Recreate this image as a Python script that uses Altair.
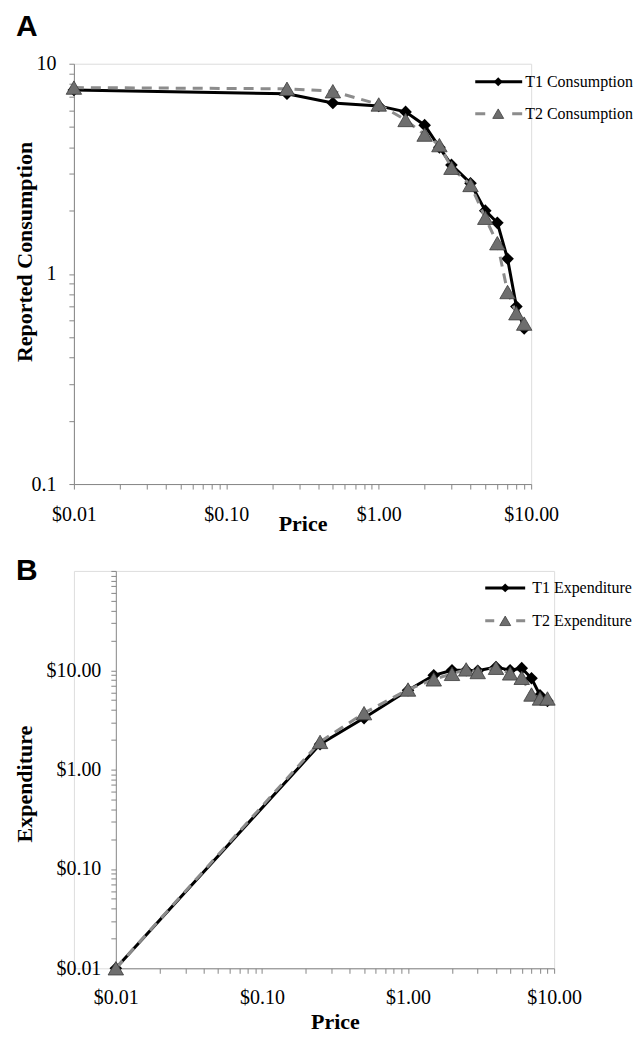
import json
import altair as alt
import pandas as pd

# ---- data ----
prices = [0.01, 0.25, 0.5, 1, 1.5, 2, 2.5, 3, 4, 5, 6, 7, 8, 9]
t1_consumption = [7.5, 7.2, 6.5, 6.3, 5.9, 5.1, 4.0, 3.3, 2.7, 2.0, 1.75, 1.18, 0.70, 0.55]
t2_consumption = [7.7, 7.6, 7.4, 6.4, 5.4, 4.6, 4.1, 3.2, 2.65, 1.85, 1.4, 0.82, 0.65, 0.58]
t1_expenditure = [0.01, 1.8, 3.3, 6.3, 8.9, 10.0, 10.0, 9.9, 10.8, 10.0, 10.5, 8.3, 5.6, 4.9]
t2_expenditure = [0.01, 1.9, 3.7, 6.4, 8.1, 9.2, 10.2, 9.6, 10.6, 9.3, 8.4, 5.7, 5.2, 5.2]

x_major = [0.01, 0.1, 1, 10]
x_labels = ["$0.01", "$0.10", "$1.00", "$10.00"]
ya_major = [0.1, 1, 10]
ya_labels = ["0.1", "1", "10"]
yb_major = [0.01, 0.1, 1, 10]
yb_labels = ["$0.01", "$0.10", "$1.00", "$10.00"]

legend_a = ["T1 Consumption", "T2 Consumption"]
legend_b = ["T1 Expenditure", "T2 Expenditure"]

SERIF = "Liberation Serif"
SANS = "Liberation Sans"
AX = "#868686"
T2_LINE = "#8c8c8c"
T2_FILL = "#6e6e6e"
T2_EDGE = "#3c3c3c"


def log_tick_values(lo, hi):
    vals = []
    for e in range(lo, hi):
        for m in range(1, 10):
            vals.append(round(m * 10.0 ** e, 6))
    vals.append(round(10.0 ** hi, 6))
    return vals


def label_expr(major, labels):
    return f"{json.dumps(labels)}[indexof({json.dumps(major)}, datum.value)] || ''"


def axis(values, expr, title, **kw):
    return alt.Axis(
        values=values, labelExpr=expr, title=title, grid=False,
        domainColor=AX, tickColor=AX, tickSize=5, domainWidth=1, tickWidth=1,
        labelFont=SERIF, labelFontSize=20, labelColor="black",
        labelFlush=False, labelOverlap=False,
        titleFont=SERIF, titleFontSize=22, titleFontWeight="bold", titleColor="black",
        **kw,
    )


def panel(t1, t2, y_domain, x_ax, y_ax, x_range, legend_labels, legend_pos, dashes,
          letter, w, h):
    d1 = pd.DataFrame({"price": prices, "value": t1})
    d2 = pd.DataFrame({"price": prices, "value": t2})
    xs = alt.Scale(type="log", domain=[0.01, 10], nice=False, range=x_range)
    ys = alt.Scale(type="log", domain=y_domain, nice=False)
    X = alt.X("price:Q", scale=xs, axis=x_ax)
    Y = alt.Y("value:Q", scale=ys, axis=y_ax)

    l1 = alt.Chart(d1).mark_line(color="black", strokeWidth=3).encode(x=X, y=Y)
    p1 = alt.Chart(d1).mark_point(shape="diamond", filled=True, color="black",
                                  size=160, opacity=1).encode(x=X, y=Y)
    l2 = alt.Chart(d2).mark_line(color=T2_LINE, strokeWidth=3,
                                 strokeDash=[10, 7]).encode(x=X, y=Y)
    p2 = alt.Chart(d2).mark_point(shape="triangle-up", filled=True, fill=T2_FILL,
                                  stroke=T2_EDGE, strokeWidth=0.8, size=240,
                                  opacity=1).encode(x=X, y=Y)

    lx0, lx1, lxm, ltx, ly1, ly2 = legend_pos
    one1 = pd.DataFrame({"label": [legend_labels[0]]})
    one2 = pd.DataFrame({"label": [legend_labels[1]]})
    g1 = alt.Chart(one1).mark_rule(color="black", strokeWidth=3).encode(
        x=alt.value(lx0), x2=alt.value(lx1), y=alt.value(ly1))
    gm1 = alt.Chart(one1).mark_point(shape="diamond", filled=True, color="black",
                                     size=80, opacity=1).encode(
        x=alt.value(lxm), y=alt.value(ly1))
    gt1 = alt.Chart(one1).mark_text(align="left", baseline="middle", font=SERIF,
                                    fontSize=16, color="black").encode(
        x=alt.value(ltx), y=alt.value(ly1), text="label:N")
    g2 = alt.Chart(one2).mark_rule(color=T2_LINE, strokeWidth=3,
                                   strokeDash=dashes).encode(
        x=alt.value(lx0), x2=alt.value(lx1), y=alt.value(ly2))
    gm2 = alt.Chart(one2).mark_point(shape="triangle-up", filled=True, fill=T2_FILL,
                                     stroke=T2_EDGE, strokeWidth=0.8, size=120,
                                     opacity=1).encode(
        x=alt.value(lxm), y=alt.value(ly2))
    gt2 = alt.Chart(one2).mark_text(align="left", baseline="middle", font=SERIF,
                                    fontSize=16, color="black").encode(
        x=alt.value(ltx), y=alt.value(ly2), text="label:N")

    lt = pd.DataFrame({"label": [letter[0]]})
    let = alt.Chart(lt).mark_text(align="left", baseline="top", font=SANS,
                                  fontSize=30, fontWeight="bold", color="black").encode(
        x=alt.value(letter[1]), y=alt.value(letter[2]), text="label:N")

    return alt.layer(l1, p1, l2, p2, g1, g2, gm1, gm2, gt1, gt2, let).properties(
        width=w, height=h)


x_vals = log_tick_values(-2, 1)

# both panels share the same left edge (x=71); panel B's axes start 42px further right
panel_a = panel(
    t1_consumption, t2_consumption, [0.1, 10],
    axis(x_vals, label_expr(x_major, x_labels), "Price",
         labelPadding=16, titlePadding=-11),
    axis(log_tick_values(-1, 1), label_expr(ya_major, ya_labels), "Reported Consumption",
         labelPadding=13, titleBaseline="top", titleX=-59, titleY=188),
    [0, 458],
    legend_a, (402, 449, 425, 452, 18, 50), [10, 27], ("A", -58, -52), 458, 421,
)

panel_b = panel(
    t1_expenditure, t2_expenditure, [0.01, 100],
    axis(x_vals, label_expr(x_major, x_labels), "Price",
         labelPadding=14, titlePadding=4),
    axis(log_tick_values(-2, 2), label_expr(yb_major, yb_labels), "Expenditure",
         labelPadding=10, titleBaseline="top", titleX=-101, titleY=213, offset=-42),
    [42, 481],
    legend_b, (412, 452, 432, 459, 17, 50), [9, 22], ("B", -58, -15), 481, 398,
)

chart = alt.vconcat(panel_a, panel_b, spacing=19).properties(
    padding={"left": 5, "top": 2, "right": 0, "bottom": 0}
).configure_view(stroke=None).configure(background="white")

chart.save("out.html", embed_options={"renderer": "svg", "actions": False})
